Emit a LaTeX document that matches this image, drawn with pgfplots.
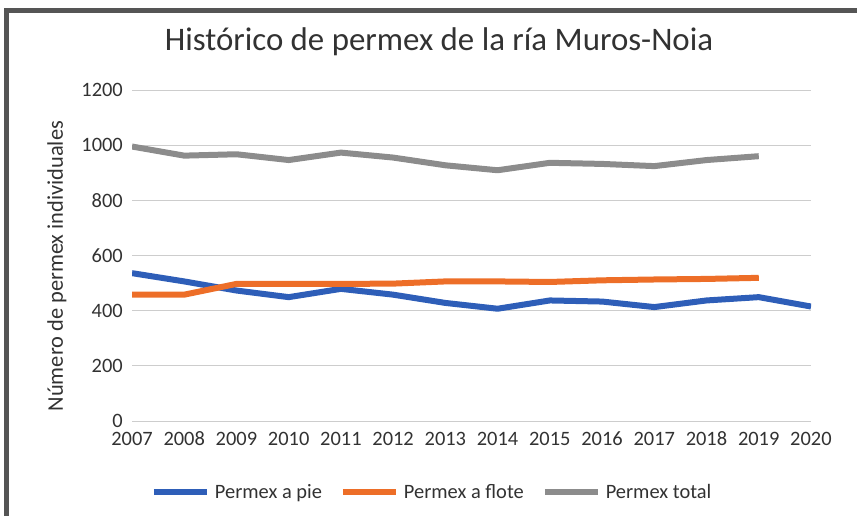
\documentclass[border=0pt]{standalone}
\usepackage{pgfplots}
\pgfplotsset{compat=1.18}
\usepackage{fontspec}
\setmainfont{Carlito}
\definecolor{cblue}{RGB}{46,94,184}
\definecolor{corange}{RGB}{237,110,40}
\definecolor{cgray}{RGB}{140,140,140}
\definecolor{cgrid}{RGB}{205,205,205}
\definecolor{ctext}{RGB}{50,50,50}
\definecolor{cframe}{RGB}{85,85,85}
\pgfplotsset{
  mylegline/.style={legend image code/.code={\draw[##1] (0bp,0bp) -- (53bp,0bp);}}
}
\begin{document}
\begin{tikzpicture}[x=1bp,y=1bp]
\path[use as bounding box] (0,0) rectangle (857,516);
\fill[cframe] (4,0) rectangle (9,508);
\fill[cframe] (4,503) rectangle (857,508);
\node[font=\fontsize{33}{38}\selectfont, text=ctext] at (439,474) {Histórico de permex de la ría Muros-Noia};
\begin{axis}[
  at={(132bp,95bp)}, anchor=south west,
  scale only axis, width=679bp, height=331bp,
  xmin=2007, xmax=2020, ymin=0, ymax=1200,
  xtick={2007,...,2020}, ytick={0,200,...,1200},
  axis line style={draw=none},
  tick style={draw=none},
  ymajorgrids, grid style={cgrid, line width=0.8bp},
  /pgf/number format/1000 sep={},
  /pgf/number format/assume math mode=true,
  tick label style={font=\fontsize{20.5}{24}\selectfont, text=ctext, inner sep=1bp},
  xticklabel style={anchor=base, yshift=-25bp},
  yticklabel style={xshift=-8bp},
  ylabel={Número de permex individuales},
  ylabel style={font=\fontsize{22.5}{26}\selectfont, text=ctext, at={(axis description cs:-0.1105,0.468)}, anchor=center},
  mylegline,
  legend columns=-1,
  legend style={draw=none, fill=none, at={(0.442,-0.2145)}, anchor=center,
    font=\fontsize{20.5}{24}\selectfont, text=ctext,
    /tikz/every even column/.append style={column sep=16bp},
    /tikz/every odd column/.append style={column sep=3bp}},
  every axis plot/.append style={line width=6bp, line join=round},
]
\addplot[cblue, no marks] coordinates {
(2007,536) (2008,506) (2009,473) (2010,449) (2011,479) (2012,458) (2013,428)
(2014,407) (2015,437) (2016,433) (2017,413) (2018,437) (2019,449) (2020,415)};
\addlegendentry{Permex a pie}
\addplot[corange, no marks] coordinates {
(2007,458) (2008,458) (2009,497) (2010,497) (2011,497) (2012,498) (2013,506)
(2014,506) (2015,504) (2016,510) (2017,513) (2018,515) (2019,519)};
\addlegendentry{Permex a flote}
\addplot[cgray, no marks] coordinates {
(2007,995) (2008,962) (2009,967) (2010,946) (2011,973) (2012,955) (2013,927)
(2014,909) (2015,936) (2016,932) (2017,924) (2018,946) (2019,960)};
\addlegendentry{Permex total}
\end{axis}
\end{tikzpicture}
\end{document}
